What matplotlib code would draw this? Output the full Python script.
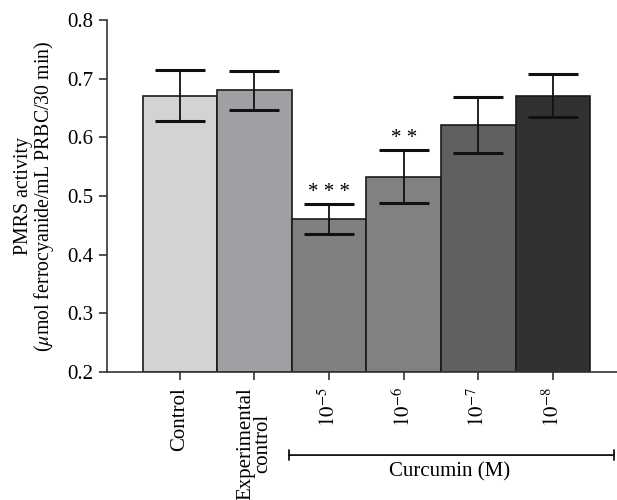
import numpy as np
import matplotlib
matplotlib.use("Agg")
import matplotlib.pyplot as plt

plt.rcParams["font.family"] = ["Liberation Serif", "DejaVu Serif"]
plt.rcParams["mathtext.fontset"] = "stix"

# data
labels = ["Control", "Experimental\ncontrol", r"$10^{-5}$", r"$10^{-6}$", r"$10^{-7}$", r"$10^{-8}$"]
means = [0.671, 0.680, 0.461, 0.533, 0.621, 0.671]
errs = [0.043, 0.033, 0.025, 0.045, 0.047, 0.037]
stars = ["", "", "* * *", "* *", "", ""]
colors = ["#d3d3d3", "#a0a0a4", "#7f8082", "#808183", "#5f6160", "#303231"]

fig = plt.figure(figsize=(6.17, 5.0), dpi=100)
ax = fig.add_axes([0.173, 0.256, 0.827, 0.704])

x = np.arange(len(means))
ax.bar(x, np.array(means) - 0.2, bottom=0.2, width=1.0, color=colors,
       edgecolor="#1a1a1a", linewidth=1.2)
ax.errorbar(x, means, yerr=errs, fmt="none", ecolor="#111111",
            elinewidth=1.3, capsize=18, capthick=2.2)
for xi, m, e, s in zip(x, means, errs, stars):
    if s:
        ax.text(xi, m + e + 0.004, s, ha="center", va="bottom", fontsize=15)

ax.set_ylim(0.2, 0.8)
ax.set_xlim(-0.98, 5.86)
ax.set_yticks(np.arange(0.2, 0.81, 0.1))
ax.set_yticklabels(["%.1f" % v for v in np.arange(0.2, 0.81, 0.1)])
ax.set_xticks(x)
ax.set_xticklabels(labels, rotation=90, va="top", ha="center", linespacing=0.85)
ax.tick_params(axis="both", labelsize=15, direction="out", length=6, width=1.2, color="#333333")
ax.tick_params(axis="x", pad=5)
for side in ["top", "right"]:
    ax.spines[side].set_visible(False)
for side in ["left", "bottom"]:
    ax.spines[side].set_linewidth(1.2)
    ax.spines[side].set_color("#333333")

ax.set_ylabel("PMRS activity\n($\\mu$mol ferrocyanide/mL PRBC/30 min)", fontsize=14.3,
              linespacing=0.95, labelpad=8)

# bracket for curcumin group
ax.annotate("", xy=(5.82, -0.236), xytext=(1.46, -0.236), xycoords=("data", "axes fraction"),
            textcoords=("data", "axes fraction"),
            arrowprops=dict(arrowstyle="|-|, widthA=0.35, widthB=0.35", lw=1.3, color="#111111",
                            shrinkA=0, shrinkB=0), annotation_clip=False)
ax.text(3.62, -0.255, "Curcumin (M)", transform=ax.get_xaxis_transform(), ha="center", va="top",
        fontsize=15)

fig.savefig("out.png", dpi=100)
